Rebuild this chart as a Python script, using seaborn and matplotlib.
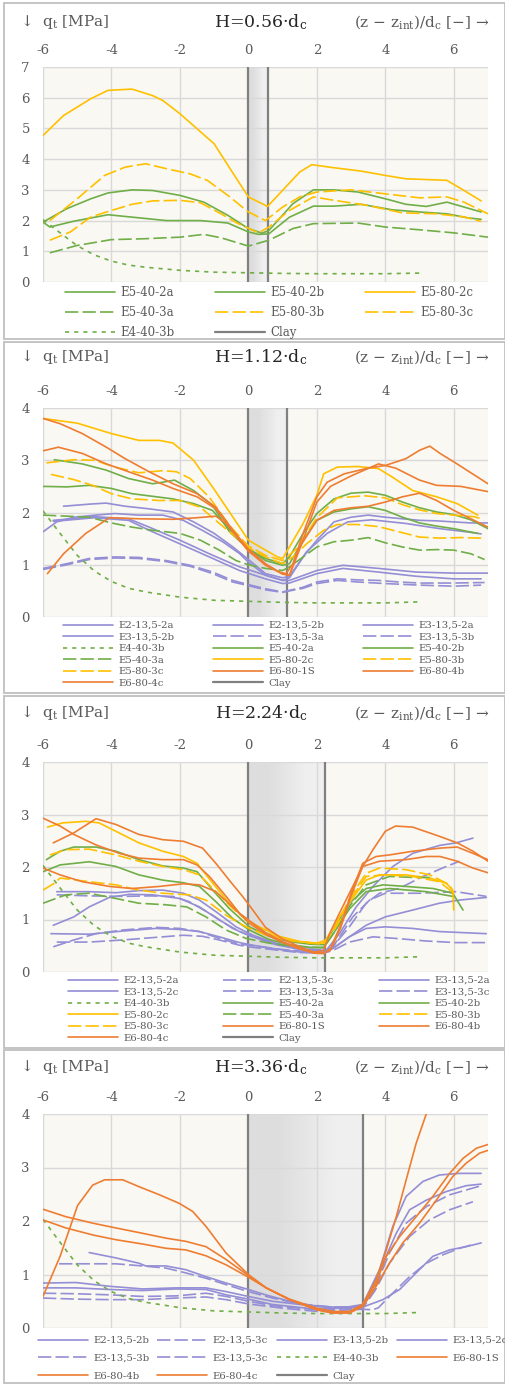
import matplotlib
matplotlib.use("Agg")
import matplotlib.pyplot as plt
from matplotlib.patches import Rectangle
from matplotlib.legend import Legend
from matplotlib.colors import LinearSegmentedColormap
import seaborn as sns

# reference curve E4-40-3b, the same in every panel
e4_x = [-6, -5.5, -5, -4.5, -4, -3.5, -3, -2, -1, 0, 1, 2, 3, 4, 5]
e4_y = [2.03, 1.6, 1.18, 0.88, 0.68, 0.55, 0.48, 0.38, 0.32, 0.3, 0.28, 0.27, 0.27, 0.27, 0.29]

# ---- H = 0.56 dc ----
p1_e5402a_x = [-6, -5.3, -4.6, -4.1, -3.4, -2.8, -2.0, -1.3, -0.6, 0.0, 0.4, 0.6, 1.3, 1.9, 2.5, 3.2, 4.0, 4.6, 5.2, 5.8, 6.3, 6.8]
p1_e5402a_y = [1.95, 2.39, 2.71, 2.9, 3.0, 2.98, 2.82, 2.6, 2.17, 1.74, 1.59, 1.68, 2.55, 3.0, 3.0, 2.93, 2.71, 2.53, 2.46, 2.6, 2.44, 2.28]
p1_e5402b_x = [-6, -5.8, -5.1, -4.1, -3.2, -2.4, -1.4, -0.6, 0.0, 0.3, 0.6, 1.2, 1.9, 2.5, 3.3, 4.2, 5.0, 5.8, 6.4, 6.8]
p1_e5402b_y = [1.95, 1.79, 1.98, 2.19, 2.09, 2.0, 2.0, 1.92, 1.63, 1.55, 1.57, 2.11, 2.47, 2.47, 2.53, 2.35, 2.28, 2.22, 2.09, 2.04]
p1_e5802c_x = [-6, -5.4, -4.6, -4.1, -3.4, -2.8, -2.5, -2.0, -1.0, -0.5, 0.0, 0.56, 1.5, 1.85, 2.5, 3.3, 4.0, 4.6, 5.1, 5.8, 6.3, 6.8]
p1_e5802c_y = [4.77, 5.42, 5.97, 6.24, 6.28, 6.07, 5.91, 5.48, 4.5, 3.63, 2.77, 2.46, 3.58, 3.82, 3.72, 3.61, 3.47, 3.36, 3.34, 3.31, 2.98, 2.64]
p1_e5403a_x = [-5.8, -5.0, -4.0, -3.0, -2.0, -1.3, -0.8, 0.0, 0.6, 1.3, 1.9, 3.2, 4.0, 5.0, 6.0, 7.0]
p1_e5403a_y = [0.95, 1.19, 1.38, 1.41, 1.46, 1.55, 1.44, 1.17, 1.36, 1.74, 1.9, 1.92, 1.79, 1.7, 1.6, 1.46]
p1_e5803b_x = [-5.8, -5.0, -4.2, -3.6, -3.0, -2.4, -1.7, -1.2, -0.6, 0.0, 0.5, 1.0, 1.5, 2.0, 3.0, 4.0, 5.0, 5.8, 6.3, 7.0]
p1_e5803b_y = [2.0, 2.71, 3.47, 3.74, 3.85, 3.69, 3.52, 3.31, 2.82, 2.28, 2.0, 2.44, 2.77, 2.93, 3.0, 2.87, 2.74, 2.77, 2.6, 2.22]
p1_e5803c_x = [-5.8, -5.2, -4.6, -4.0, -3.4, -2.8, -2.0, -1.4, -0.8, -0.3, 0.3, 0.6, 1.2, 1.9, 2.5, 3.5, 4.5, 5.5, 6.3, 6.8]
p1_e5803c_y = [1.36, 1.63, 2.12, 2.33, 2.53, 2.64, 2.66, 2.58, 2.22, 1.9, 1.6, 1.79, 2.33, 2.77, 2.66, 2.49, 2.25, 2.22, 2.12, 1.97]

# ---- H = 1.12 dc ----
p2_e2a_x = [-5.4, -4.65, -4.16, -3.6, -2.9, -2.2, -1.6, -1.0, -0.45, 0.0, 0.5, 1.0, 1.2, 1.6, 2.0, 2.5, 3.0, 3.5, 4.0, 4.5, 5.0, 5.5, 6.0, 6.5, 7.0]
p2_e2a_y = [2.12, 2.16, 2.18, 2.12, 2.07, 2.01, 1.82, 1.6, 1.34, 1.1, 0.83, 0.75, 0.78, 1.15, 1.47, 1.82, 1.91, 1.95, 1.91, 1.88, 1.85, 1.84, 1.82, 1.8, 1.8]
p2_e2b_x = [-6, -5.6, -5.1, -4.45, -3.9, -3.2, -2.5, -1.9, -1.35, -0.75, -0.25, 0.0, 0.5, 1.0, 1.2, 1.7, 2.3, 2.9, 3.6, 4.6, 5.6, 6.5, 6.8]
p2_e2b_y = [1.63, 1.82, 1.91, 1.95, 1.98, 1.95, 1.95, 1.85, 1.66, 1.44, 1.21, 1.05, 0.8, 0.7, 0.75, 1.25, 1.6, 1.82, 1.86, 1.79, 1.69, 1.62, 1.59]
p2_e3a_x = [-5.7, -4.5, -3.5, -2.9, -2.0, -1.04, -0.26, 0.5, 1.0, 1.2, 2.0, 2.76, 3.8, 4.9, 6.0, 7.0]
p2_e3a_y = [1.85, 1.92, 1.88, 1.72, 1.47, 1.18, 0.96, 0.8, 0.7, 0.7, 0.89, 0.99, 0.93, 0.86, 0.84, 0.84]
p2_e3b_x = [-5.7, -4.5, -3.5, -2.9, -2.0, -1.04, -0.26, 0.5, 1.0, 1.2, 2.0, 2.76, 3.8, 4.9, 6.0, 6.8]
p2_e3b_y = [1.83, 1.9, 1.85, 1.66, 1.4, 1.12, 0.89, 0.73, 0.64, 0.65, 0.83, 0.93, 0.86, 0.78, 0.73, 0.73]
p2_e33a_x = [-6, -5.3, -4.65, -3.9, -3.2, -2.4, -1.7, -1.04, -0.46, 0.0, 0.5, 1.0, 1.2, 1.6, 2.0, 2.6, 3.2, 3.8, 4.4, 5.0, 6.0, 6.9]
p2_e33a_y = [0.93, 1.02, 1.12, 1.15, 1.14, 1.08, 0.99, 0.86, 0.7, 0.62, 0.54, 0.48, 0.51, 0.57, 0.67, 0.73, 0.71, 0.7, 0.67, 0.65, 0.65, 0.66]
p2_e33b_x = [-6, -5.3, -4.65, -3.9, -3.2, -2.4, -1.7, -1.04, -0.46, 0.0, 0.5, 1.0, 1.2, 1.6, 2.0, 2.6, 3.2, 4.0, 5.0, 6.0, 6.8]
p2_e33b_y = [0.91, 1.0, 1.1, 1.13, 1.12, 1.06, 0.97, 0.83, 0.67, 0.6, 0.52, 0.47, 0.5, 0.55, 0.64, 0.7, 0.67, 0.64, 0.61, 0.59, 0.61]
p2_e5402a_x = [-5.67, -4.85, -4.15, -3.5, -2.8, -2.5, -2.16, -1.6, -1.05, -0.55, 0.0, 0.5, 1.0, 1.2, 1.6, 2.0, 2.5, 3.0, 3.5, 4.0, 4.5, 5.0, 5.5, 6.0, 6.5, 7.0]
p2_e5402a_y = [3.01, 2.93, 2.81, 2.65, 2.55, 2.58, 2.62, 2.42, 2.14, 1.63, 1.3, 1.12, 1.02, 1.15, 1.6, 1.98, 2.26, 2.37, 2.39, 2.33, 2.2, 2.09, 2.01, 1.96, 1.86, 1.69]
p2_e5402b_x = [-6, -5.3, -4.65, -4.0, -3.4, -2.8, -2.2, -1.6, -1.05, -0.45, 0.0, 0.5, 1.0, 1.2, 1.6, 2.0, 2.5, 3.0, 3.5, 4.0, 4.5, 5.0, 5.5, 6.0, 6.7]
p2_e5402b_y = [2.5, 2.49, 2.52, 2.46, 2.36, 2.31, 2.26, 2.17, 2.04, 1.6, 1.3, 1.08, 0.99, 1.02, 1.47, 1.85, 2.01, 2.07, 2.11, 2.04, 1.91, 1.8, 1.74, 1.69, 1.6]
p2_e5403a_x = [-6, -5.3, -4.65, -4.0, -3.4, -2.8, -2.0, -1.4, -0.85, -0.36, 0.0, 0.5, 1.0, 1.2, 1.6, 2.0, 2.5, 3.0, 3.5, 4.0, 4.5, 5.0, 5.5, 6.0, 6.5, 6.9]
p2_e5403a_y = [1.95, 1.93, 1.91, 1.8, 1.72, 1.66, 1.6, 1.47, 1.28, 1.08, 1.0, 0.93, 0.89, 0.96, 1.15, 1.34, 1.44, 1.47, 1.52, 1.42, 1.34, 1.28, 1.29, 1.28, 1.21, 1.1]
p2_e5802c_x = [-6, -5.0, -4.0, -3.2, -2.6, -2.2, -1.6, -1.05, -0.45, 0.0, 0.5, 0.85, 1.0, 1.2, 1.6, 2.0, 2.2, 2.6, 3.2, 3.8, 4.2, 4.8, 5.5, 6.1, 6.7]
p2_e5802c_y = [3.8, 3.71, 3.51, 3.38, 3.38, 3.33, 3.0, 2.49, 1.91, 1.47, 1.28, 1.15, 1.12, 1.34, 1.79, 2.33, 2.74, 2.87, 2.88, 2.84, 2.68, 2.42, 2.3, 2.17, 1.95]
p2_e5803b_x = [-5.9, -5.1, -4.5, -3.9, -3.2, -2.5, -2.1, -1.7, -1.15, -0.55, 0.0, 0.5, 1.0, 1.4, 2.0, 2.6, 3.4, 4.0, 4.5, 5.0, 5.5, 6.0, 6.6, 6.8]
p2_e5803b_y = [2.95, 3.01, 3.0, 2.87, 2.76, 2.8, 2.78, 2.65, 2.3, 1.75, 1.36, 1.18, 1.08, 1.3, 1.9, 2.28, 2.32, 2.28, 2.15, 2.05, 1.98, 1.95, 1.92, 1.88]
p2_e5803c_x = [-5.77, -5.1, -4.55, -4.0, -3.4, -2.6, -2.0, -1.4, -0.85, -0.36, 0.0, 0.5, 1.0, 1.3, 1.7, 2.2, 2.6, 3.2, 3.8, 4.4, 5.0, 5.6, 6.2, 6.8]
p2_e5803c_y = [2.73, 2.63, 2.52, 2.36, 2.26, 2.23, 2.23, 2.1, 1.79, 1.53, 1.33, 1.15, 1.02, 1.15, 1.4, 1.66, 1.77, 1.77, 1.73, 1.63, 1.53, 1.51, 1.52, 1.51]
p2_e6801s_x = [-6, -5.5, -4.85, -4.15, -3.6, -2.9, -2.2, -1.5, -0.95, -0.45, 0.0, 0.5, 0.9, 1.1, 1.3, 1.6, 2.0, 2.3, 2.8, 3.5, 4.0, 4.6, 5.0, 5.3, 5.6, 6.0, 6.5, 7.0]
p2_e6801s_y = [3.8, 3.7, 3.51, 3.25, 3.03, 2.78, 2.55, 2.36, 2.1, 1.66, 1.3, 1.02, 0.86, 0.83, 1.02, 1.6, 2.3, 2.58, 2.74, 2.85, 2.9, 3.03, 3.19, 3.27, 3.13, 2.97, 2.76, 2.55]
p2_e6804b_x = [-6, -5.55, -4.85, -4.15, -3.5, -2.8, -2.2, -1.5, -0.95, -0.45, 0.0, 0.5, 1.0, 1.2, 1.5, 2.0, 2.4, 3.0, 3.8, 4.3, 5.0, 5.5, 6.2, 7.0]
p2_e6804b_y = [3.18, 3.25, 3.13, 2.93, 2.78, 2.62, 2.46, 2.3, 2.07, 1.63, 1.26, 1.0, 0.82, 0.8, 1.3, 2.2, 2.5, 2.7, 2.93, 2.85, 2.62, 2.52, 2.5, 2.4]
p2_e6804c_x = [-5.87, -5.4, -4.75, -4.06, -3.2, -2.2, -1.5, -0.95, -0.65, -0.26, 0.0, 0.5, 1.0, 1.2, 1.5, 2.0, 2.5, 3.0, 3.5, 4.0, 4.5, 5.0, 5.5, 6.0, 6.5, 7.0]
p2_e6804c_y = [0.83, 1.21, 1.6, 1.9, 1.88, 1.87, 1.9, 1.93, 1.79, 1.47, 1.28, 0.99, 0.83, 0.8, 1.34, 1.85, 2.04, 2.09, 2.12, 2.2, 2.3, 2.37, 2.23, 2.04, 1.88, 1.72]

# ---- H = 2.24 dc ----
p3_e22a_x = [-5.6, -4.65, -3.87, -3.2, -2.5, -1.9, -1.43, -0.95, -0.36, 0.13, 0.8, 1.5, 2.27, 2.66, 3.15, 3.64, 4.22, 4.8, 5.58, 6.07, 6.56]
p3_e22a_y = [1.53, 1.53, 1.51, 1.55, 1.56, 1.5, 1.37, 1.15, 0.86, 0.7, 0.55, 0.44, 0.41, 0.73, 1.24, 1.63, 2.01, 2.26, 2.41, 2.46, 2.55]
p3_e23c_x = [-5.6, -4.65, -3.67, -2.9, -2.2, -1.73, -1.04, -0.46, 0.13, 0.8, 1.5, 2.37, 2.95, 3.44, 3.83, 4.4, 5.1, 5.78, 6.17]
p3_e23c_y = [1.47, 1.45, 1.44, 1.45, 1.44, 1.34, 1.08, 0.83, 0.67, 0.54, 0.45, 0.41, 0.86, 1.31, 1.5, 1.59, 1.82, 2.01, 2.11]
p3_e32a_x = [-5.7, -5.1, -4.65, -4.06, -3.48, -2.8, -2.0, -1.43, -0.85, -0.26, 0.13, 0.8, 1.5, 2.2, 2.47, 2.95, 3.44, 4.0, 4.8, 5.58, 6.17, 6.95]
p3_e32a_y = [0.89, 1.05, 1.24, 1.42, 1.48, 1.47, 1.4, 1.24, 0.99, 0.77, 0.67, 0.52, 0.43, 0.4, 0.45, 0.67, 0.89, 1.05, 1.18, 1.31, 1.37, 1.42]
p3_e32c_x = [-5.77, -4.65, -3.67, -2.7, -2.0, -1.43, -0.85, -0.26, 0.13, 0.8, 1.5, 2.2, 2.47, 2.95, 3.44, 4.0, 4.8, 5.58, 6.95]
p3_e32c_y = [0.73, 0.72, 0.78, 0.83, 0.81, 0.77, 0.67, 0.56, 0.51, 0.44, 0.38, 0.37, 0.45, 0.67, 0.83, 0.86, 0.83, 0.77, 0.73]
p3_e33a_x = [-5.7, -5.1, -4.45, -3.67, -2.7, -2.0, -1.43, -0.85, -0.26, 0.13, 0.8, 1.5, 2.2, 2.47, 3.05, 3.54, 4.0, 5.0, 6.07, 6.95]
p3_e33a_y = [0.48, 0.61, 0.73, 0.8, 0.85, 0.83, 0.77, 0.64, 0.53, 0.5, 0.44, 0.4, 0.4, 0.48, 1.05, 1.37, 1.5, 1.5, 1.53, 1.44]
p3_e33c_x = [-5.6, -4.65, -3.67, -2.7, -1.9, -1.34, -0.85, -0.26, 0.13, 0.8, 1.5, 2.2, 2.47, 2.95, 3.64, 4.3, 5.2, 6.07, 6.95]
p3_e33c_y = [0.57, 0.57, 0.61, 0.66, 0.7, 0.68, 0.61, 0.51, 0.47, 0.42, 0.37, 0.36, 0.41, 0.57, 0.67, 0.64, 0.59, 0.56, 0.56]
p3_e5402a_x = [-5.9, -5.5, -5.1, -4.45, -3.87, -3.2, -2.5, -1.9, -1.5, -1.04, -0.56, 0.03, 0.6, 1.2, 1.8, 2.2, 2.47, 2.95, 3.44, 3.93, 4.6, 5.4, 5.97, 6.27]
p3_e5402a_y = [2.14, 2.3, 2.38, 2.38, 2.3, 2.14, 2.02, 1.98, 1.91, 1.56, 1.21, 0.86, 0.68, 0.58, 0.53, 0.52, 0.8, 1.31, 1.59, 1.66, 1.63, 1.59, 1.5, 1.18]
p3_e5402b_x = [-6, -5.5, -4.65, -3.87, -3.2, -2.5, -1.9, -1.43, -0.95, -0.46, 0.03, 0.6, 1.2, 1.8, 2.2, 2.5, 2.95, 3.44, 4.12, 5.2, 5.97]
p3_e5402b_y = [1.91, 2.04, 2.1, 2.01, 1.85, 1.75, 1.7, 1.63, 1.34, 1.02, 0.8, 0.62, 0.52, 0.47, 0.47, 0.75, 1.2, 1.53, 1.59, 1.53, 1.44]
p3_e5403a_x = [-6, -5.33, -4.65, -3.87, -3.2, -2.4, -1.8, -1.24, -0.65, -0.07, 0.6, 1.2, 1.8, 2.2, 2.5, 2.95, 3.44, 4.12, 4.9, 5.4]
p3_e5403a_y = [1.31, 1.47, 1.5, 1.4, 1.31, 1.28, 1.24, 1.05, 0.8, 0.64, 0.55, 0.5, 0.47, 0.46, 0.75, 1.25, 1.66, 1.82, 1.8, 1.8]
p3_e5802c_x = [-5.87, -5.43, -4.75, -4.36, -3.87, -3.2, -2.5, -1.9, -1.5, -1.04, -0.56, -0.07, 0.32, 0.9, 1.5, 2.0, 2.27, 2.66, 3.15, 3.44, 3.83, 4.6, 5.3, 5.78, 5.97, 6.0]
p3_e5802c_y = [2.76, 2.84, 2.87, 2.84, 2.68, 2.46, 2.3, 2.2, 2.07, 1.69, 1.31, 0.99, 0.86, 0.68, 0.58, 0.55, 0.61, 1.05, 1.5, 1.75, 1.85, 1.85, 1.79, 1.69, 1.56, 1.18]
p3_e5803b_x = [-5.8, -5.33, -4.65, -3.87, -3.2, -2.5, -1.9, -1.43, -0.95, -0.46, 0.13, 0.7, 1.3, 1.9, 2.2, 2.6, 3.0, 3.44, 3.83, 4.6, 5.3, 5.88, 6.0]
p3_e5803b_y = [2.23, 2.33, 2.34, 2.23, 2.11, 2.01, 1.95, 1.85, 1.53, 1.21, 0.89, 0.7, 0.6, 0.55, 0.55, 0.95, 1.45, 1.88, 1.98, 1.95, 1.85, 1.66, 1.5]
p3_e5803c_x = [-6, -5.67, -5.5, -4.65, -3.87, -3.2, -2.5, -1.73, -1.24, -0.65, -0.07, 0.6, 1.2, 1.8, 2.2, 2.6, 3.0, 3.44, 4.0, 4.8, 5.58, 6.0]
p3_e5803c_y = [1.56, 1.69, 1.79, 1.72, 1.66, 1.56, 1.5, 1.47, 1.37, 1.08, 0.86, 0.68, 0.6, 0.55, 0.53, 0.9, 1.4, 1.82, 1.85, 1.82, 1.72, 1.5]
p3_e6801s_x = [-5.7, -5.1, -4.45, -3.87, -3.2, -2.5, -1.9, -1.34, -0.95, -0.56, -0.17, 0.13, 0.5, 1.0, 1.5, 1.9, 2.2, 2.37, 2.66, 3.05, 3.34, 3.64, 4.0, 4.3, 4.8, 5.6, 6.1, 6.56, 7.0]
p3_e6801s_y = [2.46, 2.65, 2.92, 2.81, 2.62, 2.52, 2.49, 2.36, 2.07, 1.75, 1.44, 1.18, 0.85, 0.63, 0.48, 0.38, 0.41, 0.73, 1.12, 1.63, 2.01, 2.33, 2.68, 2.78, 2.76, 2.58, 2.46, 2.3, 2.11]
p3_e6804b_x = [-6, -5.5, -5.1, -4.45, -3.77, -3.2, -2.5, -1.9, -1.5, -1.14, -0.65, -0.26, 0.13, 0.5, 1.0, 1.5, 1.9, 2.2, 2.4, 2.7, 3.0, 3.34, 3.73, 4.12, 4.8, 5.6, 6.1, 6.56, 7.0]
p3_e6804b_y = [2.93, 2.78, 2.62, 2.42, 2.26, 2.17, 2.14, 2.14, 2.04, 1.82, 1.44, 1.12, 0.93, 0.75, 0.58, 0.45, 0.36, 0.35, 0.45, 0.9, 1.5, 2.07, 2.2, 2.23, 2.3, 2.36, 2.38, 2.26, 2.14]
p3_e6804c_x = [-6, -5.5, -4.85, -4.06, -3.4, -2.6, -1.9, -1.43, -0.95, -0.46, 0.03, 0.5, 1.0, 1.5, 1.9, 2.2, 2.4, 2.7, 3.0, 3.34, 3.83, 4.6, 5.2, 5.6, 6.1, 6.56, 7.0]
p3_e6804c_y = [1.98, 1.85, 1.72, 1.63, 1.59, 1.63, 1.68, 1.66, 1.53, 1.24, 0.93, 0.72, 0.56, 0.44, 0.37, 0.36, 0.42, 0.85, 1.45, 2.01, 2.11, 2.14, 2.2, 2.2, 2.11, 1.98, 1.89]

# ---- H = 3.36 dc ----
p4_e22b_x = [-4.65, -3.87, -3.19, -3.0, -2.41, -1.83, -1.24, -0.65, 0.0, 0.5, 1.2, 2.0, 2.7, 3.34, 3.83, 4.22, 4.61, 5.1, 5.58, 6.17, 6.8]
p4_e22b_y = [1.41, 1.31, 1.21, 1.16, 1.16, 1.09, 0.96, 0.84, 0.72, 0.62, 0.5, 0.4, 0.37, 0.44, 1.09, 1.9, 2.46, 2.74, 2.86, 2.89, 2.89]
p4_e23c_x = [-5.53, -4.65, -3.87, -3.09, -2.41, -1.83, -1.24, -0.65, 0.0, 0.7, 1.5, 2.47, 3.34, 3.7, 4.12, 4.61, 5.2, 5.88, 6.8]
p4_e23c_y = [1.2, 1.2, 1.2, 1.16, 1.12, 1.03, 0.93, 0.81, 0.68, 0.56, 0.45, 0.39, 0.4, 0.75, 1.4, 1.96, 2.27, 2.49, 2.66]
p4_e32b_x = [-6, -5.04, -4.06, -3.09, -2.12, -1.24, -0.65, 0.0, 0.7, 1.5, 2.47, 3.34, 3.6, 3.93, 4.32, 4.71, 5.2, 5.78, 6.36, 6.8]
p4_e32b_y = [0.84, 0.85, 0.78, 0.73, 0.75, 0.75, 0.68, 0.59, 0.5, 0.44, 0.39, 0.4, 0.75, 1.21, 1.77, 2.21, 2.39, 2.55, 2.66, 2.69]
p4_e32c_x = [-6, -5.04, -4.06, -3.09, -2.12, -1.24, -0.65, 0.0, 0.7, 2.0, 3.34, 3.93, 4.42, 4.9, 5.39, 5.88, 6.36, 6.8]
p4_e32c_y = [0.75, 0.75, 0.72, 0.7, 0.73, 0.72, 0.62, 0.54, 0.44, 0.35, 0.39, 0.53, 0.72, 1.03, 1.34, 1.46, 1.52, 1.59]
p4_e33b_x = [-6, -5.04, -4.06, -3.09, -2.12, -1.24, -0.65, 0.0, 0.7, 2.0, 3.34, 3.7, 4.12, 4.71, 5.29, 5.88, 6.56]
p4_e33b_y = [0.65, 0.64, 0.62, 0.59, 0.6, 0.65, 0.59, 0.5, 0.42, 0.34, 0.37, 0.7, 1.21, 1.71, 2.02, 2.21, 2.36]
p4_e33c_x = [-6, -5.04, -4.06, -3.09, -2.12, -1.24, -0.65, 0.0, 1.0, 2.0, 3.34, 3.64, 3.8, 4.12, 4.71, 5.2, 5.69, 6.17, 6.5]
p4_e33c_y = [0.56, 0.54, 0.53, 0.53, 0.56, 0.58, 0.53, 0.45, 0.37, 0.31, 0.35, 0.34, 0.38, 0.59, 0.96, 1.21, 1.37, 1.49, 1.55]
p4_e6801s_x = [-6, -5.5, -4.99, -4.55, -4.2, -3.67, -3.19, -2.6, -2.02, -1.63, -1.24, -0.65, 0.0, 0.52, 1.2, 2.0, 2.47, 2.95, 3.34, 3.73, 4.03, 4.32, 4.61, 4.9, 5.25]
p4_e6801s_y = [0.59, 1.34, 2.29, 2.67, 2.77, 2.77, 2.64, 2.49, 2.33, 2.18, 1.9, 1.4, 1.0, 0.75, 0.53, 0.34, 0.28, 0.29, 0.44, 0.9, 1.46, 2.08, 2.77, 3.45, 4.1]
p4_e6804b_x = [-6, -5.33, -4.55, -3.87, -3.09, -2.41, -1.83, -1.24, -0.65, 0.0, 0.52, 1.2, 2.0, 2.47, 2.95, 3.34, 3.73, 4.03, 4.42, 4.9, 5.39, 5.88, 6.27, 6.66, 7.0]
p4_e6804b_y = [2.22, 2.08, 1.96, 1.87, 1.77, 1.68, 1.62, 1.52, 1.28, 0.98, 0.75, 0.54, 0.37, 0.31, 0.31, 0.44, 0.84, 1.34, 1.71, 2.08, 2.46, 2.89, 3.17, 3.36, 3.43]
p4_e6804c_x = [-6, -5.33, -4.55, -3.87, -3.09, -2.41, -1.83, -1.24, -0.65, 0.0, 0.52, 1.2, 2.0, 2.47, 2.95, 3.34, 3.73, 4.12, 4.51, 5.0, 5.49, 5.97, 6.36, 6.76, 7.0]
p4_e6804c_y = [2.02, 1.87, 1.74, 1.65, 1.57, 1.49, 1.46, 1.35, 1.18, 0.95, 0.75, 0.53, 0.34, 0.28, 0.28, 0.4, 0.78, 1.21, 1.59, 1.96, 2.39, 2.83, 3.08, 3.27, 3.32]

clay_h = [0.56, 1.12, 2.24, 3.36]
titles = ["0.56", "1.12", "2.24", "3.36"]

p1_series = [
    ("E5-40-2a", p1_e5402a_x, p1_e5402a_y), ("E5-40-2b", p1_e5402b_x, p1_e5402b_y),
    ("E5-80-2c", p1_e5802c_x, p1_e5802c_y), ("E5-40-3a", p1_e5403a_x, p1_e5403a_y),
    ("E5-80-3b", p1_e5803b_x, p1_e5803b_y), ("E5-80-3c", p1_e5803c_x, p1_e5803c_y),
    ("E4-40-3b", e4_x, e4_y),
]
p2_series = [
    ("E2-13,5-2a", p2_e2a_x, p2_e2a_y), ("E2-13,5-2b", p2_e2b_x, p2_e2b_y),
    ("E3-13,5-2a", p2_e3a_x, p2_e3a_y), ("E3-13,5-2b", p2_e3b_x, p2_e3b_y),
    ("E3-13,5-3a", p2_e33a_x, p2_e33a_y), ("E3-13,5-3b", p2_e33b_x, p2_e33b_y),
    ("E4-40-3b", e4_x, e4_y), ("E5-40-2a", p2_e5402a_x, p2_e5402a_y),
    ("E5-40-2b", p2_e5402b_x, p2_e5402b_y), ("E5-40-3a", p2_e5403a_x, p2_e5403a_y),
    ("E5-80-2c", p2_e5802c_x, p2_e5802c_y), ("E5-80-3b", p2_e5803b_x, p2_e5803b_y),
    ("E5-80-3c", p2_e5803c_x, p2_e5803c_y), ("E6-80-1S", p2_e6801s_x, p2_e6801s_y),
    ("E6-80-4b", p2_e6804b_x, p2_e6804b_y), ("E6-80-4c", p2_e6804c_x, p2_e6804c_y),
]
p3_series = [
    ("E2-13,5-2a", p3_e22a_x, p3_e22a_y), ("E2-13,5-3c", p3_e23c_x, p3_e23c_y),
    ("E3-13,5-2a", p3_e32a_x, p3_e32a_y), ("E3-13,5-2c", p3_e32c_x, p3_e32c_y),
    ("E3-13,5-3a", p3_e33a_x, p3_e33a_y), ("E3-13,5-3c", p3_e33c_x, p3_e33c_y),
    ("E4-40-3b", e4_x, e4_y), ("E5-40-2a", p3_e5402a_x, p3_e5402a_y),
    ("E5-40-2b", p3_e5402b_x, p3_e5402b_y), ("E5-80-2c", p3_e5802c_x, p3_e5802c_y),
    ("E5-40-3a", p3_e5403a_x, p3_e5403a_y), ("E5-80-3b", p3_e5803b_x, p3_e5803b_y),
    ("E5-80-3c", p3_e5803c_x, p3_e5803c_y), ("E6-80-1S", p3_e6801s_x, p3_e6801s_y),
    ("E6-80-4b", p3_e6804b_x, p3_e6804b_y), ("E6-80-4c", p3_e6804c_x, p3_e6804c_y),
]
p4_series = [
    ("E2-13,5-2b", p4_e22b_x, p4_e22b_y), ("E2-13,5-3c", p4_e23c_x, p4_e23c_y),
    ("E3-13,5-2b", p4_e32b_x, p4_e32b_y), ("E3-13,5-2c", p4_e32c_x, p4_e32c_y),
    ("E3-13,5-3b", p4_e33b_x, p4_e33b_y), ("E3-13,5-3c", p4_e33c_x, p4_e33c_y),
    ("E4-40-3b", e4_x, e4_y), ("E6-80-1S", p4_e6801s_x, p4_e6801s_y),
    ("E6-80-4b", p4_e6804b_x, p4_e6804b_y), ("E6-80-4c", p4_e6804c_x, p4_e6804c_y),
]

PURPLE = "#938ed6"
GREEN = "#6fae48"
YELLOW = "#ffc000"
ORANGE = "#ee7d32"
CLAY = "#808080"
GREY = "#595959"
clay_cmap = LinearSegmentedColormap.from_list("clay", ["#dddddd", "#efefef"])


def line_style(label):
    if label.startswith("E4"):
        return GREEN, (0, (2.5, 3.0))
    if "13,5" in label:
        color = PURPLE
    elif "-40-" in label:
        color = GREEN
    elif label.startswith("E5-80"):
        color = YELLOW
    else:
        color = ORANGE
    if label.split("-")[-1].startswith("3"):
        return color, (0, (8, 2.5))
    return color, "-"


sns.set_theme(style="white")
plt.rcParams["font.family"] = ["DejaVu Serif", "DejaVu Sans"]
plt.rcParams["mathtext.fontset"] = "dejavuserif"
plt.rcParams["axes.unicode_minus"] = False

W, H = 506, 1385
fig = plt.figure(figsize=(W / 100, H / 100), dpi=100)

# layout in pixels: frame top/bottom, plot top/bottom, header y, legend
panels = [
    dict(series=p1_series, ymax=7, frame=(3, 339), plot=(67, 282), head=22,
         ncol=3, cols=[65, 215, 365], top=286, fs=8.5, sp=0.6, hl=4.2, tp=0.47),
    dict(series=p2_series, ymax=4, frame=(342, 693), plot=(408, 617), head=357,
         ncol=3, cols=[63, 213, 363], top=621, fs=7.3, sp=0.24, hl=4.95, tp=0.55),
    dict(series=p3_series, ymax=4, frame=(696, 1048), plot=(762, 972), head=713,
         ncol=3, cols=[68, 223, 379], top=976, fs=7.3, sp=0.24, hl=4.95, tp=0.55),
    dict(series=p4_series, ymax=4, frame=(1050, 1383), plot=(1114, 1328), head=1067,
         ncol=4, cols=[38, 157, 277, 397], top=1336, fs=7.3, sp=0.87, hl=4.95, tp=0.55),
]

for i, pn in enumerate(panels):
    zf = 2 * i
    fy0, fy1 = pn["frame"]
    fig.patches.append(Rectangle((4 / W, 1 - fy1 / H), 501 / W, (fy1 - fy0) / H,
                                 transform=fig.transFigure, facecolor="white",
                                 edgecolor="#bfbfbf", lw=1.3, zorder=zf))
    py0, py1 = pn["plot"]
    ax = fig.add_axes([43 / W, 1 - py1 / H, 445 / W, (py1 - py0) / H])
    ax.set_zorder(zf + 1)
    ax.set_facecolor("#faf8f2")

    handles, labels = [], []
    for label, xs, ys in pn["series"]:
        color, ls = line_style(label)
        sns.lineplot(x=xs, y=ys, ax=ax, color=color, linewidth=1.2, linestyle=ls,
                     estimator=None, sort=False, zorder=3)
        handles.append(ax.get_lines()[-1])
        labels.append(label)

    h = clay_h[i]
    ax.imshow([[0, 1]], extent=(0, h, 0, pn["ymax"]), cmap=clay_cmap, aspect="auto",
              interpolation="bilinear", zorder=0.2)
    ax.axvline(0, color=CLAY, lw=1.6, zorder=2)
    clay_line = ax.axvline(h, color=CLAY, lw=1.6, zorder=2)
    handles.append(clay_line)
    labels.append("Clay")

    ax.set_xlim(-6, 7)
    ax.set_ylim(0, pn["ymax"])
    ax.set_xticks(range(-6, 7, 2))
    ax.set_yticks(range(0, pn["ymax"] + 1))
    ax.xaxis.set_ticks_position("top")
    ax.tick_params(axis="both", length=0, labelsize=9.5, labelcolor=GREY)
    ax.tick_params(axis="x", pad=7.3)
    ax.tick_params(axis="y", pad=9.5)
    ax.grid(True, color="#d9d9d9", lw=1.0)
    ax.set_axisbelow(True)
    for s in ax.spines.values():
        s.set_visible(False)

    # legend laid out row-wise like the original, one legend per column
    ncol = pn["ncol"]
    for c in range(ncol):
        leg = Legend(ax, handles[c::ncol], labels[c::ncol], loc="upper left",
                     bbox_to_anchor=(pn["cols"][c] / W, 1 - pn["top"] / H),
                     bbox_transform=fig.transFigure, frameon=False,
                     borderpad=0, borderaxespad=0, fontsize=pn["fs"],
                     labelspacing=pn["sp"], handlelength=pn["hl"],
                     handletextpad=pn["tp"], labelcolor=GREY)
        ax.add_artist(leg)

    yh = 1 - pn["head"] / H
    fig.text(20 / W, yh, r"↓  q$_\mathrm{t}$ [MPa]", fontsize=11, color=GREY,
             va="center", ha="left", zorder=zf + 1.5)
    fig.text(261 / W, yh, "H=" + titles[i] + r"·d$_\mathrm{c}$", fontsize=12.5,
             color="#262626", va="center", ha="center", zorder=zf + 1.5)
    fig.text(490 / W, yh, r"(z − z$_\mathrm{int}$)/d$_\mathrm{c}$ [−] →", fontsize=11,
             color=GREY, va="center", ha="right", zorder=zf + 1.5)

fig.savefig("out.png", dpi=100)
